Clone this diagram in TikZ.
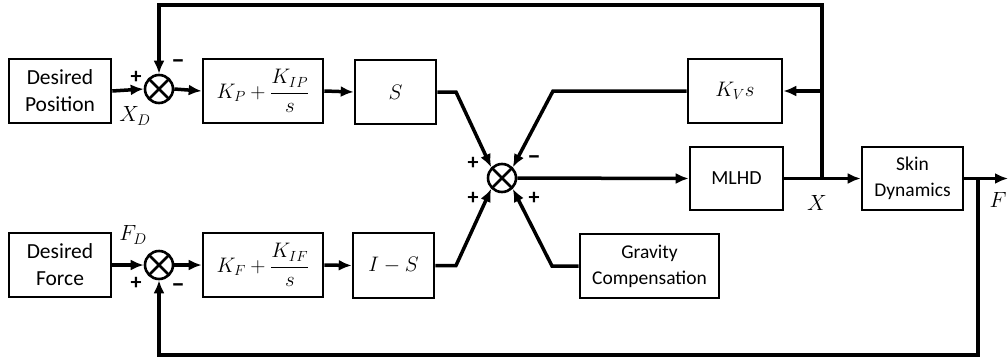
\RequirePackage{fix-cm}
\documentclass[tikz,border=0pt]{standalone}
\usepackage{fontspec}
\newfontfamily\boxfont{Carlito}
\usetikzlibrary{arrows.meta}
\begin{document}
\begin{tikzpicture}[x=1pt,y=-1pt,
  blk/.style={draw, line width=2.6pt, inner sep=0pt, align=center,
    font=\boxfont\fontsize{20}{27}\selectfont},
  bigblk/.style={blk, font=\boxfont\fontsize{21.5}{27}\selectfont},
  mathblk/.style={blk, font=\fontsize{21}{25}\selectfont},
  sumnode/.style={circle, draw, line width=2.6pt, minimum size=28pt, inner sep=0pt,
    path picture={\draw[line width=2.6pt] (path picture bounding box.north west) -- (path picture bounding box.south east)
      (path picture bounding box.north east) -- (path picture bounding box.south west);}},
  conn/.style={line width=3.5pt, line join=miter, -{Latex[length=13pt,width=11pt]}},
  wire/.style={line width=3.5pt, line join=miter},
  sign/.style={font=\boxfont\bfseries\fontsize{22}{22}\selectfont, inner sep=0pt},
  minus/.style={font=\boxfont\bfseries\fontsize{27}{27}\selectfont, inner sep=0pt},
  lab/.style={font=\fontsize{22}{24}\selectfont, inner sep=0pt}
]
\useasboundingbox (0,0) rectangle (1008,362);

% blocks
\node[bigblk, minimum width=102pt, minimum height=64pt] (dp) at (60,91) {Desired\\Position};
\node[sumnode] (s1) at (159,89) {};
\node[mathblk, minimum width=120pt, minimum height=64pt] (kp) at (263,91) {$\displaystyle K_P+\frac{K_{IP}}{s}$};
\node[mathblk, minimum width=81pt, minimum height=64pt] (sb) at (395.5,92) {$S$};
\node[sumnode] (sum) at (502,178) {};
\node[mathblk, minimum width=94pt, minimum height=64pt] (kv) at (735,91) {$K_V s$};
\node[blk, minimum width=93pt, minimum height=63pt] (ml) at (736.5,178.5) {MLHD};
\node[blk, font=\boxfont\fontsize{19.5}{26}\selectfont, minimum width=101pt, minimum height=63pt] (sk) at (912.5,178.5) {Skin\\Dynamics};
\node[bigblk, minimum width=102pt, minimum height=64pt] (df) at (60,265) {Desired\\Force};
\node[sumnode] (s2) at (159,265) {};
\node[mathblk, minimum width=120pt, minimum height=64pt] (kf) at (263,265) {$\displaystyle K_F+\frac{K_{IF}}{s}$};
\node[mathblk, minimum width=81pt, minimum height=65pt] (is) at (393.5,265.5) {$I-S$};
\node[blk, font=\boxfont\fontsize{19.5}{26}\selectfont, minimum width=139pt, minimum height=64pt] (gc) at (649.5,266) {Gravity\\Compensation};

% junction coordinates
\coordinate (jX) at (822,178.5);
\coordinate (jF) at (978,178.5);
\coordinate (topR) at (822,5);
\coordinate (topL) at (159,5);
\coordinate (botR) at (978,355);
\coordinate (botL) at (159,355);
\coordinate (outF) at (1008,178.5);
\coordinate (cS) at (456,92);
\coordinate (cKV) at (553,91);
\coordinate (cIS) at (456,265.5);
\coordinate (cGC) at (552,266);

% connectors top row
\draw[conn] (dp.east) -- (s1.west);
\draw[conn] (s1.east) -- (kp.west);
\draw[conn] (kp.east) -- (sb.west);
\draw[conn] (sb.east) -- (cS) -- (sum.135);
\draw[conn] (jX) -- (topR) -- (topL) -- (s1.north);
\draw[conn] (jX |- kv.east) -- (kv.east);
\draw[conn] (kv.west) -- (cKV) -- (sum.45);
\draw[conn] (sum.east) -- (ml.west);
\draw[wire] (ml.east) -- (jX);
\draw[conn] (jX) -- (sk.west);
\draw[conn] (sk.east) -- (outF);
\draw[conn] (jF) -- (botR) -- (botL) -- (s2.south);

% bottom row
\draw[conn] (df.east) -- (s2.west);
\draw[conn] (s2.east) -- (kf.west);
\draw[conn] (kf.east) -- (is.west);
\draw[conn] (is.east) -- (cIS) -- (sum.225);
\draw[conn] (gc.west) -- (cGC) -- (sum.-45);

% signs
\node[sign] (p1) at (136,77) {+};
\node[minus] (m1) at (178,64) {\textendash};
\node[sign] (p2) at (136,283) {+};
\node[minus] (m2) at (178,288) {\textendash};
\node[sign] (p3) at (473,163) {+};
\node[minus] (m3) at (534,160) {\textendash};
\node[sign] (p4) at (473,198) {+};
\node[sign] (p5) at (534,198) {+};

% labels
\node[lab] (lxd) at (135,116) {$X_D$};
\node[lab] (lfd) at (133,235) {$F_D$};
\node[lab] (lx) at (817,203) {$X$};
\node[lab] (lf) at (998,200) {$F$};
\end{tikzpicture}
\end{document}
